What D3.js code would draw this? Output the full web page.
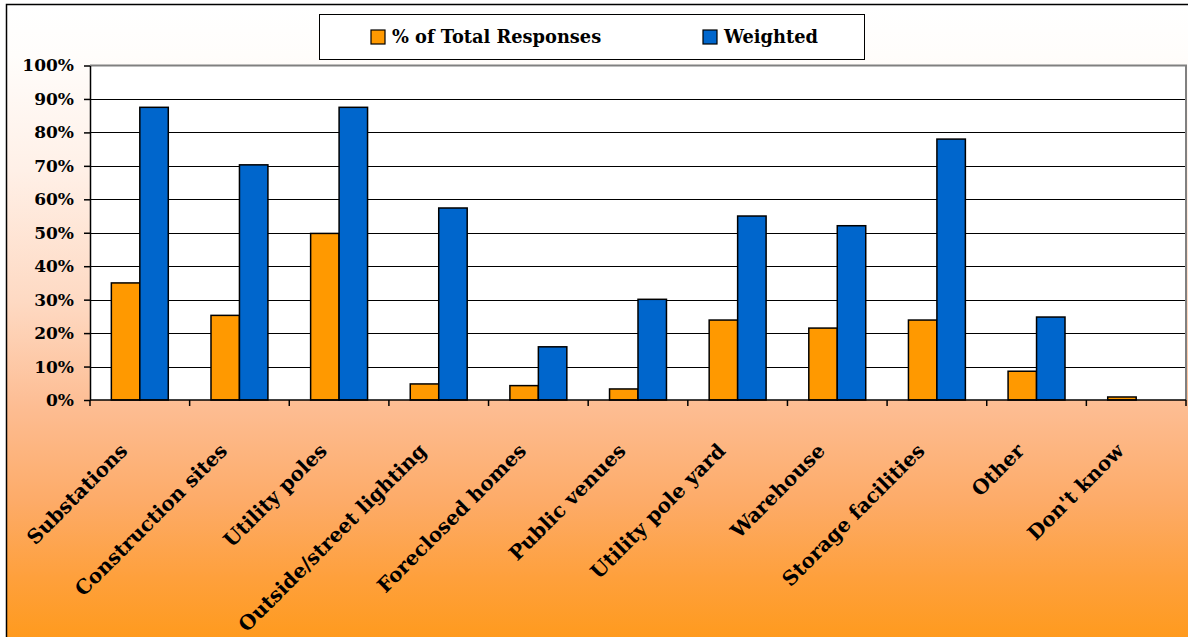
<!DOCTYPE html>
<html>
<head>
<meta charset="utf-8">
<script src="https://cdn.jsdelivr.net/npm/d3@7"></script>
<style>
  html, body { margin: 0; padding: 0; background: #fff; }
  svg { display: block; }
  text { font-family: "DejaVu Serif", serif; font-weight: bold; fill: #000; }
</style>
</head>
<body>
<svg id="chart" width="1188" height="637"></svg>
<script>
// Locations and the two measures per location
const categories = [
  "Substations", "Construction sites", "Utility poles", "Outside/street lighting",
  "Foreclosed homes", "Public venues", "Utility pole yard", "Warehouse",
  "Storage facilities", "Other", "Don't know"
];
const totalResponses = [35, 25.3, 49.8, 4.8, 4.3, 3.3, 23.9, 21.5, 23.9, 8.6, 0.9];
const weighted       = [87.5, 70.3, 87.5, 57.4, 15.9, 30.1, 55.0, 52.1, 78.0, 24.8, 0];
const seriesNames = ["% of Total Responses", "Weighted"];
const seriesColors = ["#FF9900", "#0066CC"];
const yTicks = [0, 10, 20, 30, 40, 50, 60, 70, 80, 90, 100];

const W = 1188, H = 637;
const plot = { left: 90, right: 1186, top: 65.5, bottom: 400 };

const svg = d3.select("#chart");
const defs = svg.append("defs");

// Backdrop: white at the top fading to orange at the bottom
const grad = defs.append("linearGradient")
  .attr("id", "bgGrad").attr("x1", 0).attr("y1", 0).attr("x2", 0).attr("y2", 1);
[[0, "#ffffff"], [0.08, "#fffdfb"], [0.26, "#fff0e7"], [0.47, "#fed9c2"],
 [0.63, "#fdbd93"], [0.78, "#fdab68"], [0.9, "#fea03c"], [1, "#ff9a1c"]]
  .forEach(([o, c]) => grad.append("stop").attr("offset", o).attr("stop-color", c));

svg.append("rect").attr("x", 6.5).attr("y", 4.5).attr("width", W).attr("height", H)
  .attr("fill", "url(#bgGrad)").attr("stroke", "#000").attr("stroke-width", 1.5);

// Scales
const x0 = d3.scaleBand().domain(categories).range([plot.left, plot.right]);
const barW = x0.bandwidth() * 0.2857;
const x1 = d3.scaleBand().domain(seriesNames).range([0, barW * 2]);
const y = d3.scaleLinear().domain([0, 100]).range([plot.bottom, plot.top]);

// Plot area
svg.append("rect")
  .attr("x", plot.left).attr("y", plot.top)
  .attr("width", plot.right - plot.left).attr("height", plot.bottom - plot.top)
  .attr("fill", "#fff");

// Gridlines
svg.append("g")
  .selectAll("line").data(yTicks.filter(t => t > 0 && t < 100)).join("line")
  .attr("x1", plot.left).attr("x2", plot.right)
  .attr("y1", d => Math.round(y(d)) + 0.5).attr("y2", d => Math.round(y(d)) + 0.5)
  .attr("stroke", "#000").attr("stroke-width", 1);

// Plot border top/right in grey
svg.append("path")
  .attr("d", `M${plot.left},${plot.top}H${plot.right}V${plot.bottom}`)
  .attr("fill", "none").attr("stroke", "#808080").attr("stroke-width", 2);

// Bars
const rows = categories.map((c, i) => ({ cat: c, vals: [totalResponses[i], weighted[i]] }));
const groups = svg.append("g").selectAll("g").data(rows).join("g")
  .attr("transform", d => `translate(${x0(d.cat) + (x0.bandwidth() - barW * 2) / 2},0)`);
groups.selectAll("rect")
  .data(d => d.vals.map((v, k) => ({ name: seriesNames[k], v, k })).filter(e => e.v > 0))
  .join("rect")
  .attr("x", e => x1(e.name))
  .attr("width", x1.bandwidth())
  .attr("y", e => y(e.v))
  .attr("height", e => y(0) - y(e.v))
  .attr("fill", e => seriesColors[e.k])
  .attr("stroke", "#000").attr("stroke-width", 1.5);

// Y axis
const yAxis = d3.axisLeft(y).tickValues(yTicks).tickFormat(d => d + "%")
  .tickSizeInner(6).tickSizeOuter(0).tickPadding(10);
const gy = svg.append("g").attr("transform", `translate(${plot.left},0)`).call(yAxis);
gy.select(".domain").attr("stroke", "#000").attr("stroke-width", 1.5);
gy.selectAll(".tick line").attr("stroke", "#000").attr("stroke-width", 1.5);
gy.selectAll(".tick text").attr("font-size", 17).attr("font-family", "DejaVu Serif")
  .attr("font-weight", "bold").attr("fill", "#000");

// X axis: ticks at category boundaries
const xAxisG = svg.append("g");
xAxisG.append("line").attr("x1", plot.left).attr("x2", plot.right)
  .attr("y1", plot.bottom).attr("y2", plot.bottom)
  .attr("stroke", "#000").attr("stroke-width", 1.5);
const bounds = categories.map(c => x0(c)).concat([plot.right]);
xAxisG.selectAll("line.tk").data(bounds).join("line").attr("class", "tk")
  .attr("x1", d => d).attr("x2", d => d)
  .attr("y1", plot.bottom).attr("y2", plot.bottom + 6)
  .attr("stroke", "#000").attr("stroke-width", 1.5);
xAxisG.selectAll("text").data(categories).join("text")
  .attr("text-anchor", "end")
  .attr("font-size", 20)
  .attr("transform", d => `translate(${x0(d) + x0.bandwidth() / 2 - 11},452) rotate(-45)`)
  .text(d => d);

// Legend
const lg = svg.append("g");
lg.append("rect").attr("x", 319.5).attr("y", 14.5).attr("width", 545).attr("height", 45)
  .attr("fill", "#fff").attr("stroke", "#000").attr("stroke-width", 1);
const legendX = [371, 703];
seriesNames.forEach((name, k) => {
  lg.append("rect").attr("x", legendX[k]).attr("y", 30).attr("width", 14).attr("height", 14)
    .attr("fill", seriesColors[k]).attr("stroke", "#000").attr("stroke-width", 1.2);
  lg.append("text").attr("x", legendX[k] + 21).attr("y", 43)
    .attr("font-size", 17.8).text(name);
});
</script>
</body>
</html>
